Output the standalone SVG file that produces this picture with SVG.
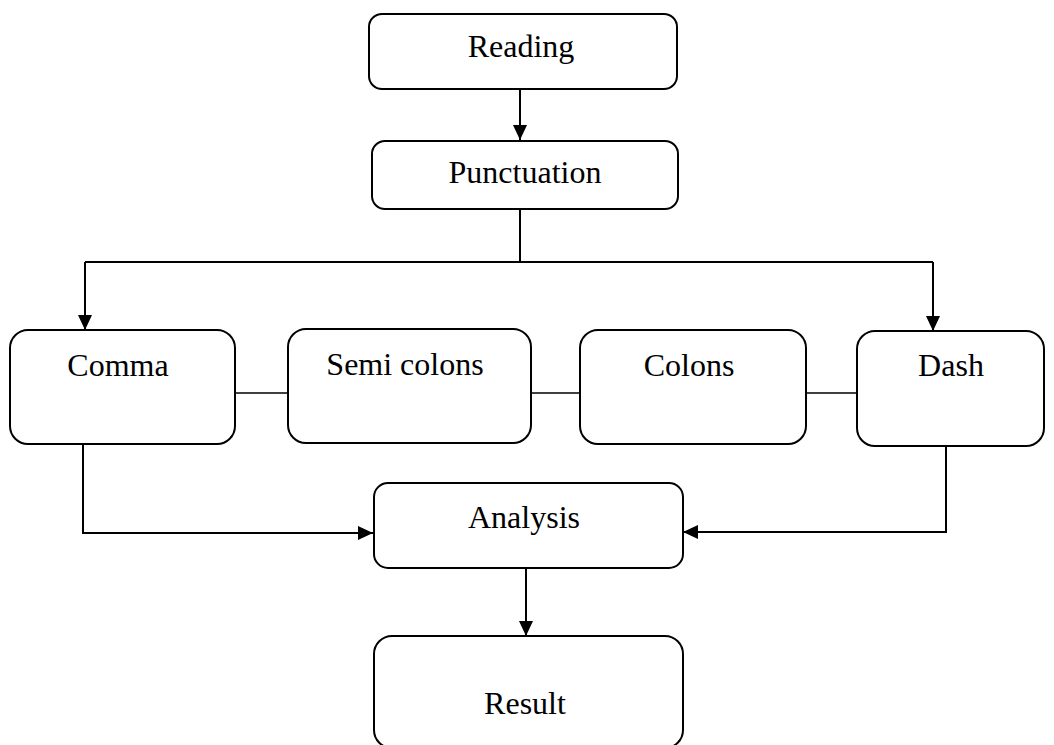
<svg xmlns="http://www.w3.org/2000/svg" width="1054" height="745" viewBox="0 0 1054 745">
<defs>
<style>
.box{fill:#fff;stroke:#000;stroke-width:2}
.t{font-family:"Liberation Serif","Times New Roman",serif;font-size:32px;fill:#000;text-anchor:middle}
.c{fill:none;stroke:#000;stroke-width:2}
.l{fill:none;stroke:#000;stroke-width:1.5}
</style>
<marker id="ah" markerWidth="15" markerHeight="14" refX="15" refY="7" orient="auto" markerUnits="userSpaceOnUse">
<path d="M0,0 L15,7 L0,14 Z" fill="#000"/>
</marker>
</defs>
<rect width="1054" height="745" fill="#fff"/>
<g id="connectors">
<path class="c" d="M520,89 V140" marker-end="url(#ah)"/>
<path class="c" d="M520,209 V262"/>
<path class="c" d="M85,262 H933"/>
<path class="c" d="M85,262 V330" marker-end="url(#ah)"/>
<path class="c" d="M933,262 V331" marker-end="url(#ah)"/>
<path class="l" d="M235,393 H288"/>
<path class="l" d="M531,393 H580"/>
<path class="l" d="M806,393 H857"/>
<path class="c" d="M83,444 V533 H373" marker-end="url(#ah)"/>
<path class="c" d="M946,446 V532 H683" marker-end="url(#ah)"/>
<path class="c" d="M526,568 V636" marker-end="url(#ah)"/>
</g>
<g id="reading"><rect class="box" x="369" y="14" width="308" height="75" rx="13"/><text class="t" x="521" y="57">Reading</text></g>
<g id="punctuation"><rect class="box" x="372" y="141" width="306" height="68" rx="13"/><text class="t" x="525" y="183">Punctuation</text></g>
<g id="comma"><rect class="box" x="10" y="330" width="225" height="114" rx="18"/><text class="t" x="118" y="376">Comma</text></g>
<g id="semicolons"><rect class="box" x="288" y="329" width="243" height="114" rx="18"/><text class="t" x="405" y="375">Semi colons</text></g>
<g id="colons"><rect class="box" x="580" y="330" width="226" height="114" rx="18"/><text class="t" x="689" y="376">Colons</text></g>
<g id="dash"><rect class="box" x="857" y="331" width="187" height="115" rx="18"/><text class="t" x="951" y="376">Dash</text></g>
<g id="analysis"><rect class="box" x="374" y="483" width="309" height="85" rx="14"/><text class="t" x="524" y="528">Analysis</text></g>
<g id="result"><rect class="box" x="374" y="636" width="309" height="112" rx="18"/><text class="t" x="525" y="714">Result</text></g>
</svg>
